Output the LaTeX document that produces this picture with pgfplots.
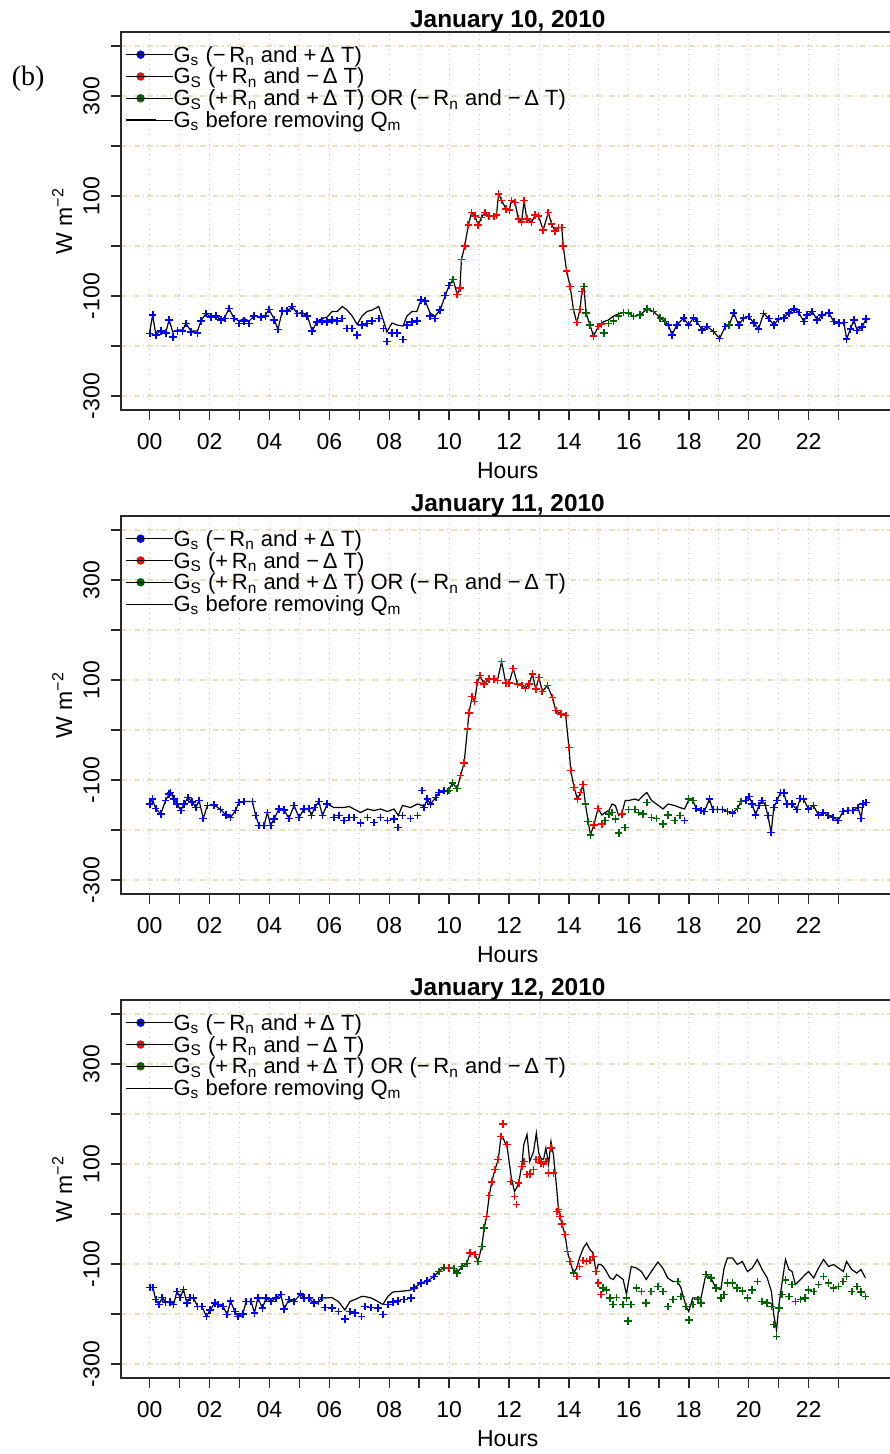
\documentclass[border=0pt]{standalone}
\usepackage{pgfplots}
\pgfplotsset{compat=1.18}
\usepackage{pgfplotstable}
\usepackage{fontspec}
\setmainfont{Liberation Sans}
\newfontfamily\serifb{Liberation Serif}

\definecolor{gridbeige}{RGB}{232,224,194}
\definecolor{gridgray}{RGB}{200,200,200}
\definecolor{rblue}{RGB}{0,0,255}
\definecolor{rred}{RGB}{255,0,0}
\definecolor{rgreen}{RGB}{0,100,0}
\definecolor{boxgray}{RGB}{40,40,40}

% t = hour of day, g = G_s before removing Q_m, m = G_s, c = sign class
\pgfplotstableread{
t g m c
0.00 -172 -175 b
0.10 -138 -138 b
0.21 -178 -178 b
0.38 -168 -170 b
0.54 -172 -174 b
0.65 -148 -148 b
0.77 -172 -182 b
0.93 -168 -170 b
1.10 -168 -170 b
1.21 -155 -155 b
1.38 -170 -172 b
1.60 -170 -174 b
1.71 -150 -150 b
1.88 -135 -135 b
2.04 -142 -142 b
2.21 -140 -140 b
2.38 -148 -148 b
2.51 -142 -145 b
2.65 -125 -125 b
2.82 -145 -145 b
2.99 -150 -155 b
3.15 -145 -150 b
3.32 -150 -155 b
3.49 -140 -140 b
3.71 -142 -142 b
3.87 -138 -140 b
3.98 -127 -127 b
4.15 -145 -148 b
4.28 -167 -167 b
4.43 -130 -130 b
4.59 -130 -130 b
4.76 -121 -121 b
4.93 -135 -135 b
5.09 -133 -135 b
5.26 -140 -140 b
5.43 -170 -170 b
5.59 -150 -152 b
5.76 -145 -150 b
5.93 -142 -152 b
6.09 -131 -148 b
6.26 -131 -150 b
6.43 -121 -145 b
6.59 -128 -165 b
6.76 -140 -165 b
6.93 -157 -178 b
7.09 -140 -158 b
7.26 -131 -155 b
7.43 -128 -150 b
7.65 -121 -145 b
7.81 -150 -165 b
7.92 -172 -191 b
8.09 -154 -174 b
8.26 -158 -174 b
8.46 -160 -187 b
8.59 -140 -158 b
8.76 -131 -152 b
8.92 -131 -150 b
9.06 -108 -108 b
9.20 -110 -110 b
9.37 -135 -140 b
9.53 -140 -145 b
9.70 -128 -128 b
9.87 -99 -99 b
10.00 -79 -79 b
10.13 -67 -67 g
10.27 -97 -97 r
10.36 -84 -84 r
10.41 -27 -27 r
10.52 0 0 r
10.64 42 42 r
10.75 67 67 r
10.86 60 60 r
10.97 42 42 r
11.08 57 57 r
11.19 67 67 r
11.34 60 60 r
11.49 59 59 r
11.58 62 62 r
11.65 104 104 r
11.75 91 91 r
11.90 74 74 r
12.01 72 72 r
12.08 91 91 r
12.20 87 87 r
12.31 54 54 r
12.42 48 48 r
12.50 91 91 r
12.59 54 54 r
12.75 47 47 r
12.87 62 62 r
12.98 60 60 r
13.14 32 32 r
13.31 67 67 r
13.42 44 44 r
13.53 30 30 r
13.65 37 37 r
13.76 37 37 r
13.81 0 0 r
13.92 -50 -50 r
14.04 -81 -81 r
14.15 -127 -127 r
14.26 -153 -153 r
14.37 -127 -127 r
14.43 -91 -91 r
14.50 -81 -81 g
14.57 -134 -134 g
14.70 -158 -158 g
14.82 -180 -180 r
14.98 -161 -161 r
15.09 -156 -156 r
15.17 -151 -174 g
15.32 -148 -155 g
15.49 -140 -150 g
15.65 -136 -140 g
15.82 -133 -133 g
15.99 -134 -134 g
16.15 -141 -141 g
16.38 -138 -138 g
16.60 -126 -126 g
16.82 -131 -131 g
17.05 -144 -144 g
17.21 -151 -151 g
17.32 -158 -158 b
17.44 -178 -178 b
17.60 -158 -158 b
17.83 -144 -144 b
17.99 -158 -158 b
18.16 -144 -144 b
18.27 -151 -151 b
18.44 -168 -168 b
18.61 -161 -161 b
18.83 -171 -171 b
19.03 -185 -185 b
19.22 -161 -161 b
19.35 -158 -158 g
19.50 -134 -134 b
19.67 -158 -158 b
19.83 -144 -144 b
20.00 -141 -141 b
20.17 -154 -154 b
20.33 -166 -166 b
20.50 -135 -135 b
20.67 -145 -145 b
20.84 -158 -158 b
21.00 -146 -146 b
21.17 -144 -144 b
21.34 -134 -134 b
21.51 -126 -126 b
21.67 -133 -133 b
21.84 -151 -151 b
21.95 -138 -138 b
22.12 -131 -131 b
22.29 -148 -148 b
22.45 -138 -138 b
22.68 -134 -134 b
22.84 -151 -151 b
23.01 -154 -154 b
23.18 -153 -153 b
23.27 -186 -186 b
23.40 -166 -166 b
23.51 -148 -148 b
23.62 -169 -169 b
23.79 -162 -162 b
23.92 -146 -146 b
}\dayA

\pgfplotstableread{
t g m c
0.00 -148 -148 b
0.09 -138 -138 b
0.20 -157 -157 b
0.37 -168 -168 b
0.53 -141 -141 b
0.65 -128 -128 b
0.70 -125 -125 b
0.81 -138 -138 b
0.92 -148 -148 b
1.04 -161 -161 b
1.15 -148 -148 b
1.28 -135 -135 b
1.42 -144 -144 b
1.54 -155 -155 b
1.65 -141 -141 b
1.79 -177 -177 b
1.93 -151 -151 b
2.15 -150 -150 b
2.37 -159 -159 b
2.54 -170 -170 b
2.70 -175 -175 b
2.87 -161 -161 b
2.98 -145 -145 b
3.15 -143 -143 b
3.43 -143 -143 b
3.54 -171 -171 b
3.65 -191 -191 b
3.82 -191 -191 b
3.93 -165 -165 b
4.04 -191 -191 b
4.15 -178 -178 b
4.32 -158 -158 b
4.49 -160 -160 b
4.65 -177 -177 b
4.82 -151 -151 b
4.99 -175 -175 b
5.15 -158 -158 b
5.32 -157 -157 b
5.40 -171 -171 b
5.51 -155 -155 b
5.65 -143 -143 b
5.77 -171 -171 b
5.93 -148 -148 b
6.15 -155 -175 b
6.32 -155 -171 b
6.49 -155 -181 b
6.66 -153 -175 b
6.82 -158 -175 b
7.04 -165 -186 b
7.27 -158 -175 b
7.49 -161 -185 b
7.71 -158 -175 b
7.94 -163 -181 b
8.16 -158 -178 b
8.30 -171 -195 b
8.44 -151 -171 b
8.71 -155 -177 b
8.94 -148 -171 b
9.10 -151 -121 b
9.16 -155 -155 b
9.27 -138 -138 b
9.38 -148 -148 b
9.55 -135 -135 b
9.66 -125 -125 b
9.83 -121 -121 b
9.94 -123 -123 b
9.99 -121 -121 g
10.11 -106 -106 g
10.27 -117 -117 g
10.38 -91 -91 r
10.50 -66 -66 r
10.61 2 2 r
10.66 34 34 r
10.77 67 67 r
10.85 57 57 r
10.94 95 95 r
11.03 109 109 r
11.16 92 92 r
11.33 102 102 r
11.50 102 102 r
11.61 99 99 r
11.75 137 137 r
11.89 94 94 r
12.00 94 94 r
12.14 123 123 r
12.28 92 92 r
12.44 89 89 r
12.55 83 83 r
12.67 92 92 r
12.78 112 112 r
12.89 82 82 r
13.00 105 105 r
13.11 77 77 r
13.28 89 89 r
13.45 65 65 r
13.56 39 39 r
13.73 32 32 r
13.89 29 29 r
14.00 -35 -35 r
14.06 -81 -81 r
14.17 -115 -115 r
14.28 -138 -138 r
14.39 -125 -125 r
14.47 -109 -109 r
14.55 -148 -148 g
14.64 -183 -183 g
14.72 -210 -210 g
14.83 -190 -190 r
14.97 -157 -157 r
15.10 -170 -188 r
15.21 -165 -181 g
15.33 -161 -168 g
15.44 -148 -165 g
15.55 -151 -178 g
15.66 -171 -206 g
15.77 -165 -168 r
15.88 -141 -195 g
15.99 -141 -159 g
16.21 -138 -159 g
16.32 -141 -165 g
16.48 -131 -168 g
16.60 -125 -145 g
16.76 -141 -175 g
16.92 -148 -177 g
17.14 -158 -188 g
17.31 -148 -170 g
17.53 -151 -181 g
17.70 -155 -171 g
17.86 -158 -181 b
17.99 -141 -138 g
18.14 -141 -141 g
18.25 -157 -157 b
18.41 -161 -161 b
18.52 -163 -163 b
18.69 -138 -138 b
18.80 -159 -159 b
18.96 -159 -159 b
19.13 -159 -159 b
19.29 -163 -163 b
19.46 -166 -166 b
19.63 -157 -157 g
19.74 -143 -143 g
19.90 -141 -141 b
20.01 -133 -133 b
20.12 -148 -148 b
20.23 -170 -170 b
20.34 -151 -151 b
20.45 -141 -141 b
20.56 -151 -151 b
20.64 -171 -171 b
20.75 -205 -205 b
20.84 -155 -155 b
20.95 -141 -141 b
21.06 -125 -125 b
21.17 -126 -126 b
21.28 -148 -148 b
21.44 -148 -148 b
21.61 -159 -159 b
21.72 -137 -137 b
21.83 -138 -138 b
22.00 -158 -158 b
22.16 -151 -151 b
22.33 -170 -170 b
22.49 -165 -165 b
22.66 -171 -171 b
22.82 -175 -175 b
22.99 -181 -181 b
23.15 -163 -163 b
23.32 -161 -161 b
23.48 -161 -161 b
23.65 -155 -155 b
23.76 -177 -177 b
23.81 -148 -148 b
23.92 -145 -145 b
}\dayB

\pgfplotstableread{
t g m c
0.00 -147 -147 b
0.11 -147 -147 b
0.20 -171 -171 b
0.31 -181 -181 b
0.42 -167 -167 b
0.53 -176 -176 b
0.69 -176 -176 b
0.80 -181 -181 b
0.91 -155 -155 b
1.02 -167 -167 b
1.13 -151 -151 b
1.24 -178 -178 b
1.35 -167 -167 b
1.46 -168 -168 b
1.60 -185 -185 b
1.74 -185 -185 b
1.90 -205 -205 b
2.01 -192 -192 b
2.18 -178 -178 b
2.29 -181 -181 b
2.45 -185 -185 b
2.59 -201 -201 b
2.70 -174 -174 b
2.84 -195 -195 b
2.95 -205 -205 b
3.11 -200 -200 b
3.22 -175 -175 b
3.39 -175 -175 b
3.50 -198 -198 b
3.61 -168 -168 b
3.77 -188 -188 b
3.88 -168 -168 b
4.05 -175 -175 b
4.21 -168 -168 b
4.38 -161 -161 b
4.49 -190 -190 b
4.65 -171 -171 b
4.82 -175 -175 b
5.04 -160 -160 b
5.15 -168 -168 b
5.31 -168 -168 b
5.48 -178 -178 b
5.64 -175 -175 b
5.75 -167 -167 b
5.86 -168 -187 b
6.08 -167 -188 b
6.30 -175 -195 b
6.52 -192 -210 b
6.69 -175 -195 b
6.85 -171 -198 b
7.07 -165 -205 b
7.18 -165 -185 b
7.40 -168 -187 b
7.62 -175 -188 b
7.79 -181 -201 b
7.95 -165 -181 b
8.12 -156 -176 b
8.28 -155 -174 b
8.50 -154 -171 b
8.72 -152 -168 b
8.83 -148 -148 b
9.05 -138 -138 b
9.27 -134 -134 b
9.49 -125 -125 b
9.66 -115 -115 g
9.82 -107 -107 g
9.99 -108 -108 r
10.15 -109 -109 g
10.26 -118 -118 g
10.43 -105 -105 g
10.59 -99 -99 g
10.70 -78 -78 r
10.87 -81 -81 r
10.96 -95 -95 g
11.09 -65 -65 g
11.17 -28 -28 g
11.25 -5 -5 r
11.34 37 37 r
11.42 64 64 r
11.53 89 89 r
11.64 109 109 r
11.72 150 155 r
11.80 152 180 r
11.94 132 139 r
12.07 75 65 r
12.18 45 35 r
12.25 52 19 r
12.32 62 62 r
12.43 99 95 r
12.49 139 105 r
12.60 159 79 r
12.69 105 80 r
12.82 125 89 r
12.91 162 109 r
12.99 122 109 r
13.06 112 102 r
13.15 109 99 r
13.23 132 105 r
13.32 99 82 r
13.40 145 132 r
13.48 119 82 r
13.60 45 5 r
13.65 9 9 r
13.71 -5 -5 r
13.76 -20 -20 r
13.87 -41 -41 r
13.95 -75 -75 r
14.04 -95 -95 r
14.15 -118 -118 g
14.26 -108 -125 r
14.35 -88 -105 r
14.48 -68 -93 r
14.59 -58 -95 r
14.70 -71 -93 r
14.81 -78 -85 r
14.90 -115 -115 r
14.98 -101 -138 r
15.06 -101 -161 r
15.14 -105 -148 g
15.25 -115 -152 g
15.37 -128 -168 g
15.48 -131 -181 g
15.59 -121 -167 g
15.81 -131 -181 g
15.92 -161 -168 g
15.97 -142 -214 g
16.08 -105 -181 g
16.25 -108 -148 g
16.42 -115 -155 g
16.58 -131 -178 g
16.75 -115 -155 g
16.97 -96 -145 g
17.13 -108 -155 g
17.30 -128 -185 g
17.47 -135 -171 g
17.63 -135 -135 g
17.74 -148 -165 g
17.91 -185 -185 g
18.00 -195 -212 g
18.13 -168 -181 g
18.30 -168 -171 g
18.41 -168 -178 g
18.57 -121 -121 g
18.74 -128 -128 g
18.90 -148 -148 g
19.07 -151 -168 g
19.18 -108 -161 g
19.29 -88 -138 g
19.46 -88 -138 g
19.62 -101 -148 g
19.79 -95 -154 g
19.96 -115 -168 g
20.12 -108 -152 g
20.29 -91 -135 g
20.45 -111 -175 g
20.62 -128 -178 g
20.76 -155 -185 g
20.84 -202 -221 g
20.93 -232 -245 g
21.01 -182 -188 g
21.12 -135 -161 g
21.23 -91 -132 g
21.34 -111 -165 g
21.45 -115 -141 g
21.56 -141 -175 g
21.73 -131 -171 g
21.89 -121 -168 g
22.00 -115 -152 g
22.17 -128 -155 g
22.33 -108 -141 g
22.50 -91 -125 g
22.67 -105 -138 g
22.83 -101 -148 g
23.00 -108 -145 g
23.16 -115 -135 g
23.27 -95 -125 g
23.44 -111 -155 g
23.61 -118 -145 g
23.75 -111 -156 g
23.90 -128 -165 g
}\dayC

\pgfplotsset{
  dotleg/.style={legend image code/.code={
      \draw[#1, line width=0.6pt] (0pt,0pt) -- (15pt,0pt);
      \fill[#1] (7.5pt,0pt) circle (1.9pt);
      \path (0pt,0pt) -- (23.8pt,0pt);}},
  lineleg/.style={legend image code/.code={
      \draw[black, line width=0.6pt] (0pt,0pt) -- (15pt,0pt);
      \path (0pt,0pt) -- (23.8pt,0pt);}},
  daypanel/.style={
    scale only axis, width=386.8pt, height=189pt,
    xmin=-0.957, xmax=24.873, ymin=-328, ymax=428,
    axis line style={boxgray, line width=0.75pt},
    every tick/.style={boxgray, line width=0.75pt},
    tick align=outside, major tick length=5pt,
    xtick={0,...,23},
    xticklabels={00,,02,,04,,06,,08,,10,,12,,14,,16,,18,,20,,22,},
    ytick={-300,-200,...,400},
    yticklabels={-300,,-100,,100,,300,},
    xtick pos=left, ytick pos=left,
    grid=major,
    major x grid style={gridgray, line width=0.5pt, dash pattern=on 0.5pt off 2pt},
    major y grid style={gridbeige, line width=0.55pt, dash pattern=on 3pt off 1.5pt on 0.6pt off 1.5pt},
    tick label style={font=\fontsize{11.5}{13}\selectfont},
    xticklabel style={anchor=north, inner sep=0pt},
    xticklabel shift=6.5pt,
    yticklabel style={rotate=90, anchor=south, inner sep=0pt},
    yticklabel shift=5.5pt,
    xlabel={Hours},
    ylabel={W m\textsuperscript{−2}},
    label style={font=\fontsize{11.5}{13}\selectfont, inner sep=0pt},
    xlabel style={at={([yshift=-34pt]axis description cs:0.5,0)}, anchor=base},
    ylabel style={at={([xshift=-24.5pt]axis description cs:0,0.5)}, anchor=base},
    every axis title shift=0pt,
    title style={at={([yshift=2.2pt]axis description cs:0.5,1)}, anchor=base,
      inner sep=0pt, font=\bfseries\fontsize{12.2}{14}\selectfont},
    legend cell align=left,
    legend style={at={([xshift=2pt,yshift=-7.1pt]rel axis cs:0,1)},
      anchor=north west, draw=none, fill=none, inner sep=0pt, outer sep=0pt,
      row sep=2.4pt, font=\fontsize{11}{12}\selectfont,
      nodes={inner sep=0pt, text height=8pt, text depth=0.5pt}},
  },
  gsmarks/.style={forget plot, scatter, only marks, mark=+, mark size=1.9pt,
    line width=0.85pt, scatter src=explicit symbolic,
    scatter/classes={b={mark=+,draw=rblue}, r={mark=+,draw=rred}, g={mark=+,draw=rgreen}}},
  gsline/.style={forget plot, black, line width=0.6pt},
}

\newcommand{\gslegend}{%
  \addlegendimage{dotleg=rblue}
  \addlegendentry{G\textsubscript{s} (−\,R\textsubscript{n} and +\,Δ T)}
  \addlegendimage{dotleg=rred}
  \addlegendentry{G\textsubscript{S} (+\,R\textsubscript{n} and −\,Δ T)}
  \addlegendimage{dotleg=rgreen}
  \addlegendentry{G\textsubscript{S} (+\,R\textsubscript{n} and +\,Δ T) OR (−\,R\textsubscript{n} and −\,Δ T)}
  \addlegendimage{lineleg}
  \addlegendentry{G\textsubscript{s} before removing Q\textsubscript{m}}
}

\begin{document}
\begin{tikzpicture}
\begin{axis}[daypanel, at={(60.5pt,-205pt)}, anchor=south west, title={January 10, 2010}]
  \gslegend
  \addplot[gsmarks] table[x=t, y=m, meta=c] {\dayA};
  \addplot[gsline] table[x=t, y=g] {\dayA};
\end{axis}
\begin{axis}[daypanel, at={(60.5pt,-447pt)}, anchor=south west, title={January 11, 2010}]
  \gslegend
  \addplot[gsmarks] table[x=t, y=m, meta=c] {\dayB};
  \addplot[gsline] table[x=t, y=g] {\dayB};
\end{axis}
\begin{axis}[daypanel, at={(60.5pt,-689pt)}, anchor=south west, title={January 12, 2010}]
  \gslegend
  \addplot[gsmarks] table[x=t, y=m, meta=c] {\dayC};
  \addplot[gsline] table[x=t, y=g] {\dayC};
\end{axis}
\node[font=\serifb\fontsize{14}{16}\selectfont, anchor=base west, inner sep=0pt] at (5.75pt,-43pt) {(b)};
\pgfresetboundingbox
\path[use as bounding box] (0pt,0pt) rectangle (444.5pt,-727pt);
\end{tikzpicture}
\end{document}
